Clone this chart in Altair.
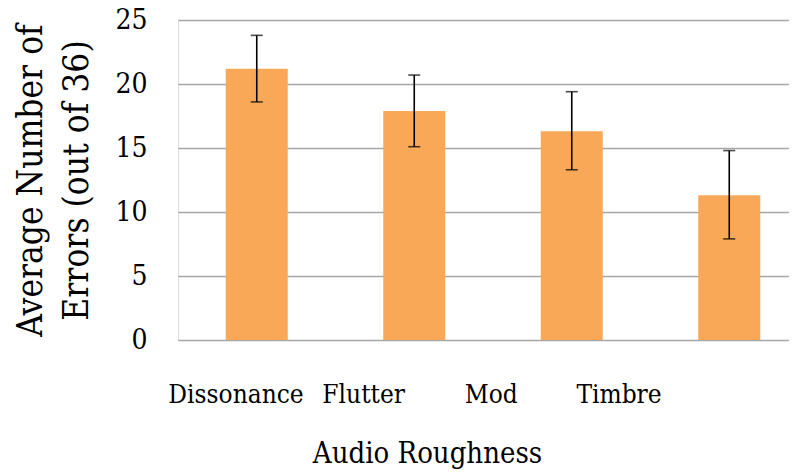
import altair as alt
import pandas as pd

categories = ["Dissonance", "Flutter", "Mod", "Timbre"]
means = [21.2, 17.9, 16.3, 11.3]
err_low = [18.6, 15.1, 13.3, 7.9]
err_high = [23.8, 20.7, 19.4, 14.8]

df = pd.DataFrame({"cat": categories, "mean": means, "lo": err_low, "hi": err_high})

FONT = "DejaVu Serif Condensed, Liberation Serif, serif"
W, H = 611, 320

xb = alt.X("cat:N", sort=categories,
           scale=alt.Scale(paddingInner=0, paddingOuter=0, range=[0, 630]),
           axis=alt.Axis(labels=False, ticks=False, domain=False, title="Audio Roughness",
                         titleFont=FONT, titleFontSize=29, titleFontWeight="normal",
                         titleColor="black", titleX=249, titleY=122,
                         titleBaseline="alphabetic", titleAnchor="middle"))

yax = alt.Axis(values=[0, 5, 10, 15, 20, 25], ticks=False, domain=False,
               labelFont=FONT, labelFontSize=28, labelColor="black", labelPadding=31,
               gridColor="#A6A6A6", gridWidth=1.5,
               title=["Average Number of", "Errors (out of 36)"],
               titleFont=FONT, titleFontSize=35, titleFontWeight="normal",
               titleColor="black", titleLineHeight=46, titlePadding=20)

base = alt.Chart(df)

bars = base.mark_bar(color="#F9A857", size=62).encode(
    x=xb,
    y=alt.Y("mean:Q", scale=alt.Scale(domain=[0, 25], nice=False), axis=yax),
)

xs = alt.X("cat:N", sort=categories)
rule = base.mark_rule(color="black", strokeWidth=1.6).encode(x=xs, y="lo:Q", y2="hi:Q")
cap_hi = base.mark_tick(color="black", size=12, thickness=1.6).encode(x=xs, y="hi:Q")
cap_lo = base.mark_tick(color="black", size=12, thickness=1.6).encode(x=xs, y="lo:Q")

bar_layer = alt.layer(bars, rule, cap_hi, cap_lo)

labels = alt.Chart(df).mark_text(font=FONT, fontSize=26, color="black",
                                 baseline="alphabetic", align="center").encode(
    x=alt.X("cat:N", sort=categories,
            scale=alt.Scale(type="point", range=[58, 441], padding=0), axis=None),
    y=alt.value(H + 63),
    text="cat:N",
)

chart = alt.layer(bar_layer, labels).resolve_scale(x="independent").properties(
    width=W, height=H,
    autosize=alt.AutoSizeParams(type="none"),
    padding={"left": 170, "top": 12, "right": 0, "bottom": 134},
).configure_view(stroke=None).configure(background="white")

chart.save("out.html", embed_options={"renderer": "svg", "actions": False})
